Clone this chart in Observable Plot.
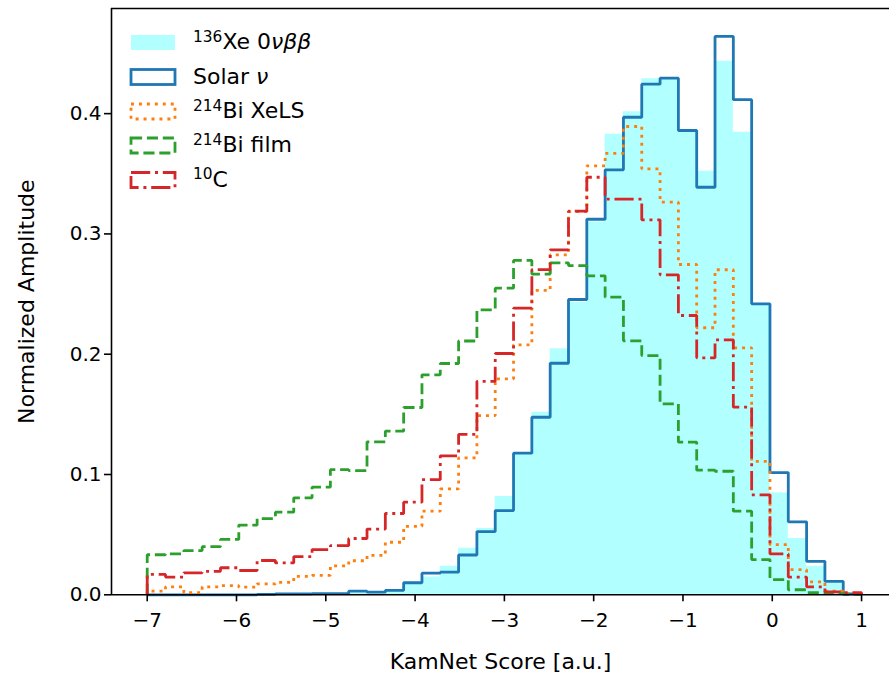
<!DOCTYPE html>
<html>
<head>
<meta charset="utf-8">
<script src="https://cdn.jsdelivr.net/npm/d3@7"></script>
<script src="https://cdn.jsdelivr.net/npm/@observablehq/plot@0.6"></script>
<style>
html, body { margin: 0; padding: 0; background: #fff; }
#wrap { position: relative; width: 889px; height: 674px; overflow: hidden; background: #fff; }
#legend { position: absolute; left: 0; top: 0; pointer-events: none; }
</style>
</head>
<body>
<div id="wrap"></div>
<script>
// ---- Binning (histogram edges) ----
const binStart = -7;
const binEnd = 1;
const nBins = 39;

// ---- Series values (normalized amplitude per bin) ----
const xeValues = [
  0, 0, 0, 0, 0, 0, 0, 0, 0, 0,
  0.0008, 0.0015, 0.002, 0.003, 0.0105, 0.0147, 0.0238, 0.0388, 0.0551, 0.0817,
  0.1165, 0.1518, 0.2045, 0.243, 0.310, 0.3829, 0.4015, 0.4289, 0.4294, 0.386,
  0.3521, 0.4436, 0.3845, 0.2405, 0.0847, 0.0468, 0.0237, 0.0095, 0.0013
];
const solarValues = [
  0, 0, 0, 0, 0, 0, 0.0003, 0.0008, 0.0008, 0.001,
  0.001, 0.003, 0.0022, 0.0036, 0.010, 0.018, 0.0188, 0.0331, 0.0526, 0.070,
  0.1177, 0.1476, 0.1925, 0.2455, 0.3122, 0.3533, 0.397, 0.4245, 0.4295, 0.386,
  0.3388, 0.4642, 0.4116, 0.2419, 0.1016, 0.0607, 0.0278, 0.0112, 0.0008
];
const biXeLSValues = [
  0.003, 0.0066, 0.0018, 0.0066, 0.0076, 0.0063, 0.0091, 0.0103, 0.0154, 0.0162,
  0.0241, 0.0283, 0.0327, 0.0437, 0.0569, 0.0695, 0.088, 0.1139, 0.149, 0.1795,
  0.2078, 0.253, 0.2826, 0.3186, 0.3565, 0.367, 0.3893, 0.3541, 0.3264, 0.2746,
  0.222, 0.2702, 0.2053, 0.111, 0.0417, 0.0209, 0.0107, 0.003, 0.0012
];
const biFilmValues = [
  0.0333, 0.034, 0.0368, 0.040, 0.046, 0.058, 0.0634, 0.0687, 0.0806, 0.0895,
  0.104, 0.1033, 0.1272, 0.136, 0.1557, 0.1829, 0.1923, 0.211, 0.2369, 0.2549,
  0.278, 0.2666, 0.276, 0.2737, 0.2652, 0.2474, 0.2111, 0.1989, 0.1588, 0.1269,
  0.1036, 0.1027, 0.0695, 0.0293, 0.0126, 0.0042, 0.0018, 0.001, 0.0003
];
const c10Values = [
  0.0169, 0.0147, 0.0183, 0.0195, 0.0225, 0.0202, 0.0285, 0.0265, 0.0317, 0.0376,
  0.0408, 0.0468, 0.0546, 0.0676, 0.077, 0.0957, 0.1155, 0.1333, 0.1775, 0.2006,
  0.2383, 0.2704, 0.2868, 0.3189, 0.3471, 0.329, 0.329, 0.3117, 0.266, 0.2322,
  0.197, 0.212, 0.156, 0.0831, 0.034, 0.0147, 0.0066, 0.0025, 0.0017
];

// ---- Ticks & labels ----
const xTicks = [-7, -6, -5, -4, -3, -2, -1, 0, 1];
const yTicks = [0, 0.1, 0.2, 0.3, 0.4];
const xLabel = "KamNet Score [a.u.]";
const yLabel = "Normalized Amplitude";
const xDomain = [-7.4, 1.313];
const yDomain = [0, 0.4874];

// ---- Legend entries ----
const legendParts = [
  [{t: "136", sup: true}, {t: "Xe 0"}, {t: "νββ", it: true}],
  [{t: "Solar "}, {t: "ν", it: true}],
  [{t: "214", sup: true}, {t: "Bi XeLS"}],
  [{t: "214", sup: true}, {t: "Bi film"}],
  [{t: "10", sup: true}, {t: "C"}]
];

const LW = 2.8;
const styles = {
  xe:    {fill: "#00ffff", fillOpacity: 0.3},
  solar: {stroke: "#1f77b4", dash: null},
  bixe:  {stroke: "#ff7f0e", dash: [3, 4.95].join(",")},
  bifilm:{stroke: "#2ca02c", dash: [11.1, 4.8].join(",")},
  c10:   {stroke: "#d62728", dash: [19.2, 4.8, 3, 4.8].join(",")}
};

const edges = d3.range(nBins + 1).map(i => binStart + i * (binEnd - binStart) / nBins);

function stepPoints(values) {
  const pts = [{x: edges[0], y: 0}];
  values.forEach((v, i) => pts.push({x: edges[i], y: v}));
  pts.push({x: edges[nBins], y: values[nBins - 1]});
  pts.push({x: edges[nBins], y: 0});
  return pts;
}

function stepLine(values, st) {
  return Plot.line(stepPoints(values), {
    x: "x", y: "y", curve: "step-after",
    stroke: st.stroke, strokeWidth: LW,
    strokeDasharray: st.dash ?? undefined,
    strokeLinecap: "butt", strokeLinejoin: "miter"
  });
}

const fmtY = d3.format(".1f");
const fmtX = d3.format("d");

const chart = Plot.plot({
  width: 889,
  height: 674,
  marginLeft: 111,
  marginRight: 0,
  marginTop: 8,
  marginBottom: 79.7,
  x: {domain: xDomain},
  y: {domain: yDomain},
  style: {fontFamily: "DejaVu Sans", fontSize: "20px", color: "#000", background: "#fff", overflow: "visible"},
  marks: [
    Plot.areaY(stepPoints(xeValues), {x: "x", y: "y", curve: "step-after", fill: styles.xe.fill, fillOpacity: styles.xe.fillOpacity}),
    stepLine(solarValues, styles.solar),
    stepLine(biXeLSValues, styles.bixe),
    stepLine(biFilmValues, styles.bifilm),
    stepLine(c10Values, styles.c10),
    Plot.ruleY([yDomain[0]], {stroke: "#000", strokeWidth: 1.6}),
    Plot.ruleY([yDomain[1]], {stroke: "#000", strokeWidth: 1.6}),
    Plot.ruleX([xDomain[0]], {stroke: "#000", strokeWidth: 1.6}),
    Plot.axisX(xTicks, {
      tickSize: 7, tickPadding: 11, tickFormat: fmtX, strokeWidth: 1.6,
      fontSize: 20, label: null
    }),
    Plot.axisX({
      ticks: [], tickSize: 0, label: xLabel, labelAnchor: "center", labelOffset: 74.5,
      labelArrow: "none", fontSize: 22
    }),
    Plot.axisY(yTicks, {
      tickSize: 7, tickPadding: 3, tickFormat: fmtY, strokeWidth: 1.6,
      fontSize: 20, label: null
    }),
    Plot.axisY({
      ticks: [], tickSize: 0, label: yLabel, labelAnchor: "center", labelOffset: 93,
      labelArrow: "none", fontSize: 22
    })
  ]
});

const wrap = document.getElementById("wrap");
wrap.appendChild(chart);

// ---- Legend overlay ----
const leg = d3.select(wrap).append("svg")
  .attr("id", "legend").attr("width", 889).attr("height", 674)
  .attr("font-family", "DejaVu Sans").attr("font-size", 22);

const rowCenters = [42.5, 77, 111.5, 145.5, 180];
const keys = ["xe", "solar", "bixe", "bifilm", "c10"];
keys.forEach((k, i) => {
  const cy = rowCenters[i];
  const st = styles[k];
  const r = leg.append("rect").attr("x", 131).attr("y", cy - 7.5).attr("width", 44).attr("height", 15);
  if (k === "xe") {
    r.attr("fill", st.fill).attr("fill-opacity", st.fillOpacity);
  } else {
    r.attr("fill", "none").attr("stroke", st.stroke).attr("stroke-width", LW);
    if (st.dash) r.attr("stroke-dasharray", st.dash);
  }
  const t = leg.append("text").attr("x", 193).attr("y", cy + 6.5).attr("fill", "#000");
  let raised = false;
  legendParts[i].forEach(p => {
    const ts = t.append("tspan").text(p.t);
    if (p.sup) {
      ts.attr("font-size", 15.4).attr("dy", -7.5);
      raised = true;
    } else {
      ts.attr("font-size", 22);
      if (raised) { ts.attr("dy", 7.5); raised = false; }
    }
    if (p.it) ts.attr("font-style", "italic");
  });
});
</script>
</body>
</html>
